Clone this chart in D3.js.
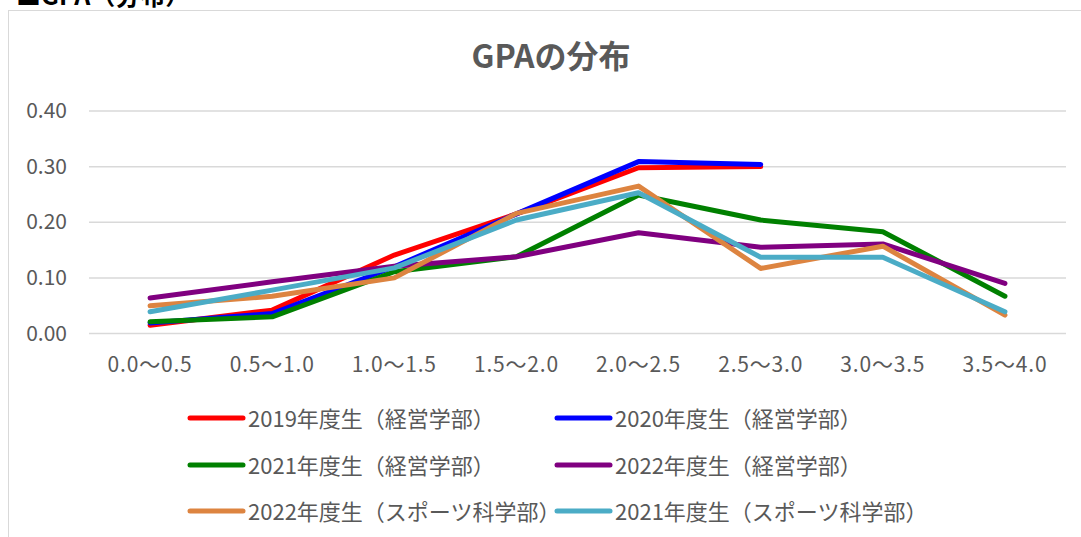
<!DOCTYPE html>
<html><head><meta charset="utf-8">
<script src="https://cdn.jsdelivr.net/npm/d3@7"></script>
<style>
html,body{margin:0;padding:0;background:#fff;overflow:hidden}
text{font-family:"Noto Sans CJK JP","Noto Sans",sans-serif}
</style></head>
<body><svg id="c" width="1081" height="537"></svg>
<script>
const categories = ["0.0～0.5","0.5～1.0","1.0～1.5","1.5～2.0","2.0～2.5","2.5～3.0","3.0～3.5","3.5～4.0"];
const yTicks = [0, 0.1, 0.2, 0.3, 0.4];
const seriesNames = ["2019年度生（経営学部）","2020年度生（経営学部）","2021年度生（経営学部）","2022年度生（経営学部）","2022年度生（スポーツ科学部）","2021年度生（スポーツ科学部）"];
const seriesColors = ["#ff0000","#0000ff","#008000","#800080","#dd8440","#4bacc6"];
const s2019 = [0.015, 0.042, 0.141, 0.215, 0.298, 0.300, null, null];
const s2020 = [0.019, 0.036, 0.120, 0.215, 0.309, 0.304, null, null];
const s2021 = [0.021, 0.030, 0.111, 0.138, 0.249, 0.204, 0.183, 0.067];
const s2022 = [0.064, 0.093, 0.121, 0.138, 0.181, 0.155, 0.161, 0.090];
const s2022sp = [0.050, 0.067, 0.100, 0.216, 0.265, 0.117, 0.157, 0.033];
const s2021sp = [0.039, 0.078, 0.118, 0.204, 0.253, 0.137, 0.137, 0.039];
const seriesValues = [s2019, s2020, s2021, s2022, s2022sp, s2021sp];

const svg = d3.select("#c");
const gray = "#595959";

// clipped heading
svg.append("text").attr("x", 16).attr("y", 5).attr("font-size", 25).attr("font-weight", "bold")
  .attr("fill", "#000").text("■GPA（分布）");

// chart frame
svg.append("rect").attr("x", 8.5).attr("y", 10.5).attr("width", 1100).attr("height", 600)
  .attr("fill", "none").attr("stroke", "#d9d9d9").attr("stroke-width", 1);

svg.append("text").attr("x", 551).attr("y", 68).attr("text-anchor", "middle")
  .attr("font-size", 32).attr("font-weight", "bold").attr("fill", gray).text("GPAの分布");

const x = d3.scaleBand().domain(categories).range([89, 1066]);
const y = d3.scaleLinear().domain([0, 0.4]).range([333.5, 111]);

// gridlines
svg.append("g").selectAll("line").data(yTicks).join("line")
  .attr("x1", 89).attr("x2", 1066).attr("y1", d => y(d)).attr("y2", d => y(d))
  .attr("stroke", "#d9d9d9").attr("stroke-width", 1.5);

// y axis
const ya = svg.append("g").attr("transform", "translate(89,0)")
  .call(d3.axisLeft(y).tickValues(yTicks).tickFormat(d3.format(".2f")).tickSize(0).tickPadding(22));
ya.select(".domain").remove();
ya.selectAll("text").attr("font-size", 21).attr("fill", gray).attr("font-family", '"Noto Sans CJK JP"');

// x axis
const xa = svg.append("g").attr("transform", "translate(0,333.5)")
  .call(d3.axisBottom(x).tickSize(0).tickPadding(24));
xa.select(".domain").remove();
xa.selectAll("text").attr("font-size", 21).attr("letter-spacing", 0.8).attr("fill", gray).attr("font-family", '"Noto Sans CJK JP"');

// lines
const line = d3.line().defined(d => d.v != null)
  .x(d => x(d.c) + x.bandwidth() / 2).y(d => y(d.v));
seriesValues.forEach((vals, i) => {
  svg.append("path")
    .datum(vals.map((v, j) => ({c: categories[j], v})))
    .attr("d", line).attr("fill", "none").attr("stroke", seriesColors[i])
    .attr("stroke-width", 5).attr("stroke-linejoin", "round").attr("stroke-linecap", "round");
});

// legend
const legX = [190, 557], legY = [418, 465, 511];
seriesNames.forEach((name, i) => {
  const lx = legX[i % 2], ly = legY[Math.floor(i / 2)];
  const g = svg.append("g").attr("transform", `translate(${lx},${ly})`);
  g.append("line").attr("x1", 0).attr("x2", 53).attr("stroke", seriesColors[i])
    .attr("stroke-width", 5).attr("stroke-linecap", "round");
  g.append("text").attr("x", 58).attr("y", 8.5).attr("font-size", 22).attr("fill", gray).text(name);
});
</script></body></html>
